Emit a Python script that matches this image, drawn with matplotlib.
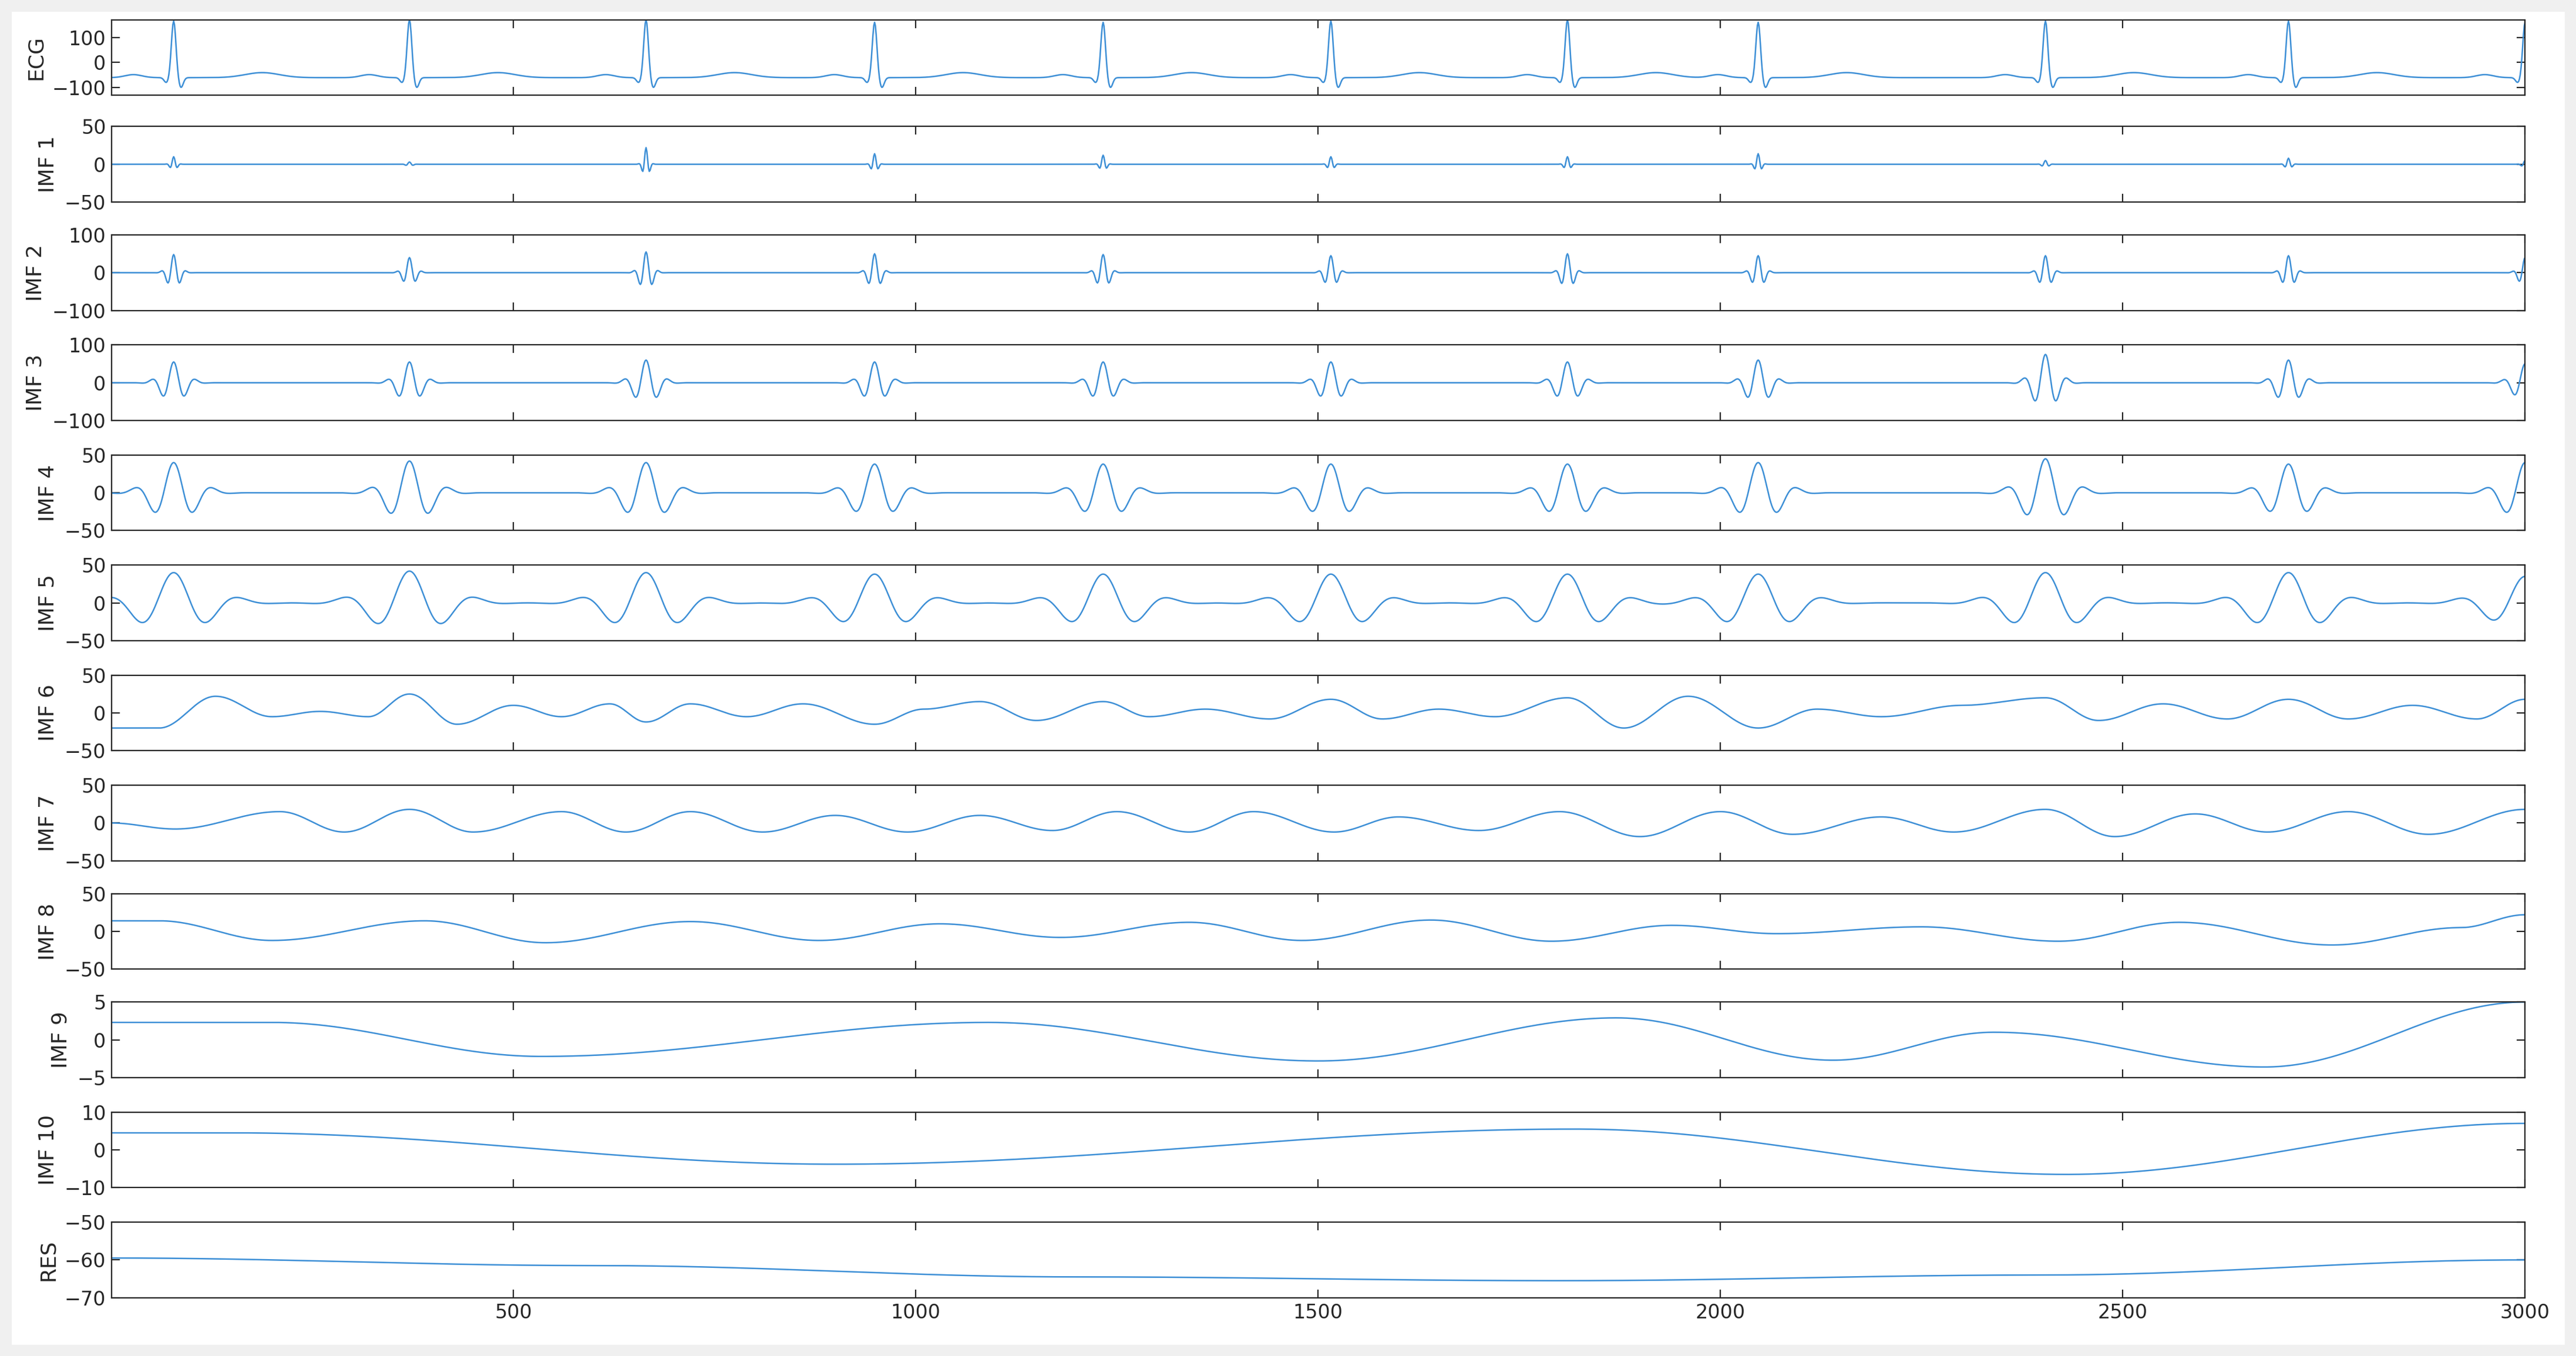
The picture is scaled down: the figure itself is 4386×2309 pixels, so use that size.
import numpy as np
import matplotlib
matplotlib.use("Agg")
import matplotlib.pyplot as plt
from matplotlib.patches import Rectangle

# ---- data ----
beats = [78, 371, 665, 949, 1233, 1516, 1810, 2047, 2404, 2706, 3000]
ecg_r = [165, 170, 170, 160, 160, 165, 170, 160, 165, 165, 160]
imf1_amp = [10, 3, 22, 14, 12, 10, 10, 14, 5, 8, 5]
imf2_amp = [48, 40, 55, 50, 48, 45, 50, 45, 45, 45, 40]
imf3_amp = [55, 55, 60, 55, 55, 55, 55, 60, 75, 60, 50]
imf4_amp = [40, 42, 40, 38, 38, 38, 38, 40, 45, 38, 40]
imf5_amp = [40, 42, 40, 38, 38, 38, 38, 38, 40, 40, 35]

imf6_x = [0, 60, 130, 200, 260, 320, 371, 430, 500, 560, 620, 665, 720, 790, 860, 949, 1010, 1080, 1150, 1233, 1290, 1360, 1440, 1516, 1580, 1650, 1720, 1810, 1880, 1960, 2047, 2120, 2200, 2300, 2404, 2470, 2550, 2630, 2706, 2780, 2860, 2940, 3000]
imf6_y = [-20, -20, 22, -5, 2, -5, 25, -15, 10, -5, 12, -12, 12, -5, 12, -15, 5, 15, -10, 15, -5, 5, -8, 18, -8, 5, -5, 20, -20, 22, -20, 5, -5, 10, 20, -10, 12, -8, 18, -8, 10, -8, 18]
imf7_x = [0, 80, 210, 290, 371, 450, 560, 640, 720, 810, 900, 990, 1080, 1170, 1250, 1340, 1420, 1520, 1600, 1700, 1800, 1900, 2000, 2090, 2200, 2290, 2404, 2490, 2590, 2680, 2780, 2880, 3000]
imf7_y = [0, -8, 15, -12, 18, -12, 15, -12, 15, -12, 10, -12, 10, -10, 15, -12, 15, -12, 8, -10, 15, -18, 15, -15, 8, -12, 18, -18, 12, -12, 15, -15, 18]
imf8_x = [0, 60, 200, 390, 540, 720, 880, 1030, 1180, 1340, 1480, 1640, 1790, 1940, 2070, 2250, 2420, 2570, 2760, 2920, 3000]
imf8_y = [14, 14, -12, 14, -15, 13, -12, 10, -8, 12, -12, 15, -13, 8, -3, 6, -13, 12, -18, 5, 22]
imf9_x = [0, 200, 535, 1090, 1500, 1871, 2140, 2340, 2676, 3000]
imf9_y = [2.3, 2.3, -2.2, 2.3, -2.8, 2.9, -2.7, 1.0, -3.6, 5.0]
imf10_x = [0, 150, 900, 1820, 2430, 3000]
imf10_y = [4.5, 4.5, -3.8, 5.5, -6.5, 7.0]
res_x = [0, 600, 1200, 1800, 2400, 3000]
res_y = [-59.5, -61.5, -64.5, -65.5, -64.0, -60.0]

labels = ["ECG", "IMF 1", "IMF 2", "IMF 3", "IMF 4", "IMF 5", "IMF 6", "IMF 7", "IMF 8", "IMF 9", "IMF 10", "RES"]
ylims = [(-130, 170), (-50, 50), (-100, 100), (-100, 100), (-50, 50), (-50, 50), (-50, 50), (-50, 50), (-50, 50), (-5, 5), (-10, 10), (-70, -50)]
yticks = [[-100, 0, 100], [-50, 0, 50], [-100, 0, 100], [-100, 0, 100], [-50, 0, 50], [-50, 0, 50], [-50, 0, 50], [-50, 0, 50], [-50, 0, 50], [-5, 0, 5], [-10, 0, 10], [-70, -60, -50]]
xticks = [500, 1000, 1500, 2000, 2500, 3000]

t = np.arange(0, 3001, 1.0)

def extrema_curve(xs, ys):
    out = np.zeros_like(t)
    for i in range(len(xs) - 1):
        m = (t >= xs[i]) & (t <= xs[i + 1])
        u = (t[m] - xs[i]) / (xs[i + 1] - xs[i])
        out[m] = ys[i] + (ys[i + 1] - ys[i]) * (1 - np.cos(np.pi * u)) / 2
    return out

def wavelets(amps, width, freq):
    out = np.zeros_like(t)
    for b, a in zip(beats, amps):
        d = t - b
        out += a * np.exp(-(d / width) ** 2) * np.cos(2 * np.pi * d / freq)
    return out

ecg = np.full_like(t, -60.0)
for b, a in zip(beats, ecg_r):
    d = t - b
    ecg += (a + 60) * np.exp(-(d / 4) ** 2) - 40 * np.exp(-((d - 9) / 4) ** 2) - 20 * np.exp(-((d + 9) / 4) ** 2)
    ecg += 12 * np.exp(-((d + 50) / 15) ** 2) + 20 * np.exp(-((d - 110) / 30) ** 2)

series = [ecg,
          wavelets(imf1_amp, 5, 10),
          wavelets(imf2_amp, 10, 16),
          wavelets(imf3_amp, 20, 28),
          wavelets(imf4_amp, 36, 50),
          wavelets(imf5_amp, 62, 85),
          extrema_curve(imf6_x, imf6_y),
          extrema_curve(imf7_x, imf7_y),
          extrema_curve(imf8_x, imf8_y),
          extrema_curve(imf9_x, imf9_y),
          extrema_curve(imf10_x, imf10_y),
          extrema_curve(res_x, res_y)]

W, H = 4386, 2309
fig = plt.figure(figsize=(W / 200, H / 200), dpi=200, facecolor="white")
fig.patches.append(Rectangle((0, 0), 1, 1, transform=fig.transFigure, fill=False,
                             edgecolor="#f0f0f0", linewidth=14))
tops = [12, 77, 143, 210, 277, 344, 411, 478, 544, 610, 677, 744]
ph = 46
Hs = 825.5
left = 68 / 1568; right = 1537 / 1568
color = "#3d8fd6"
for i in range(12):
    ax = fig.add_axes([left, 1 - (tops[i] + ph) / Hs, right - left, ph / Hs])
    ax.plot(t, series[i], color=color, lw=0.9)
    ax.set_xlim(1, 3000)
    ax.set_ylim(*ylims[i])
    ax.set_yticks(yticks[i])
    ax.set_xticks(xticks)
    ax.tick_params(direction="in", top=True, right=True, labelsize=12, length=5, width=0.8, colors="#262626")
    if i < 11:
        ax.tick_params(labelbottom=False)
    ax.set_ylabel(labels[i], fontsize=13, color="#262626", labelpad=4)
    for s in ax.spines.values():
        s.set_linewidth(0.8)
        s.set_color("#262626")
fig.savefig("out.png", dpi=200)
